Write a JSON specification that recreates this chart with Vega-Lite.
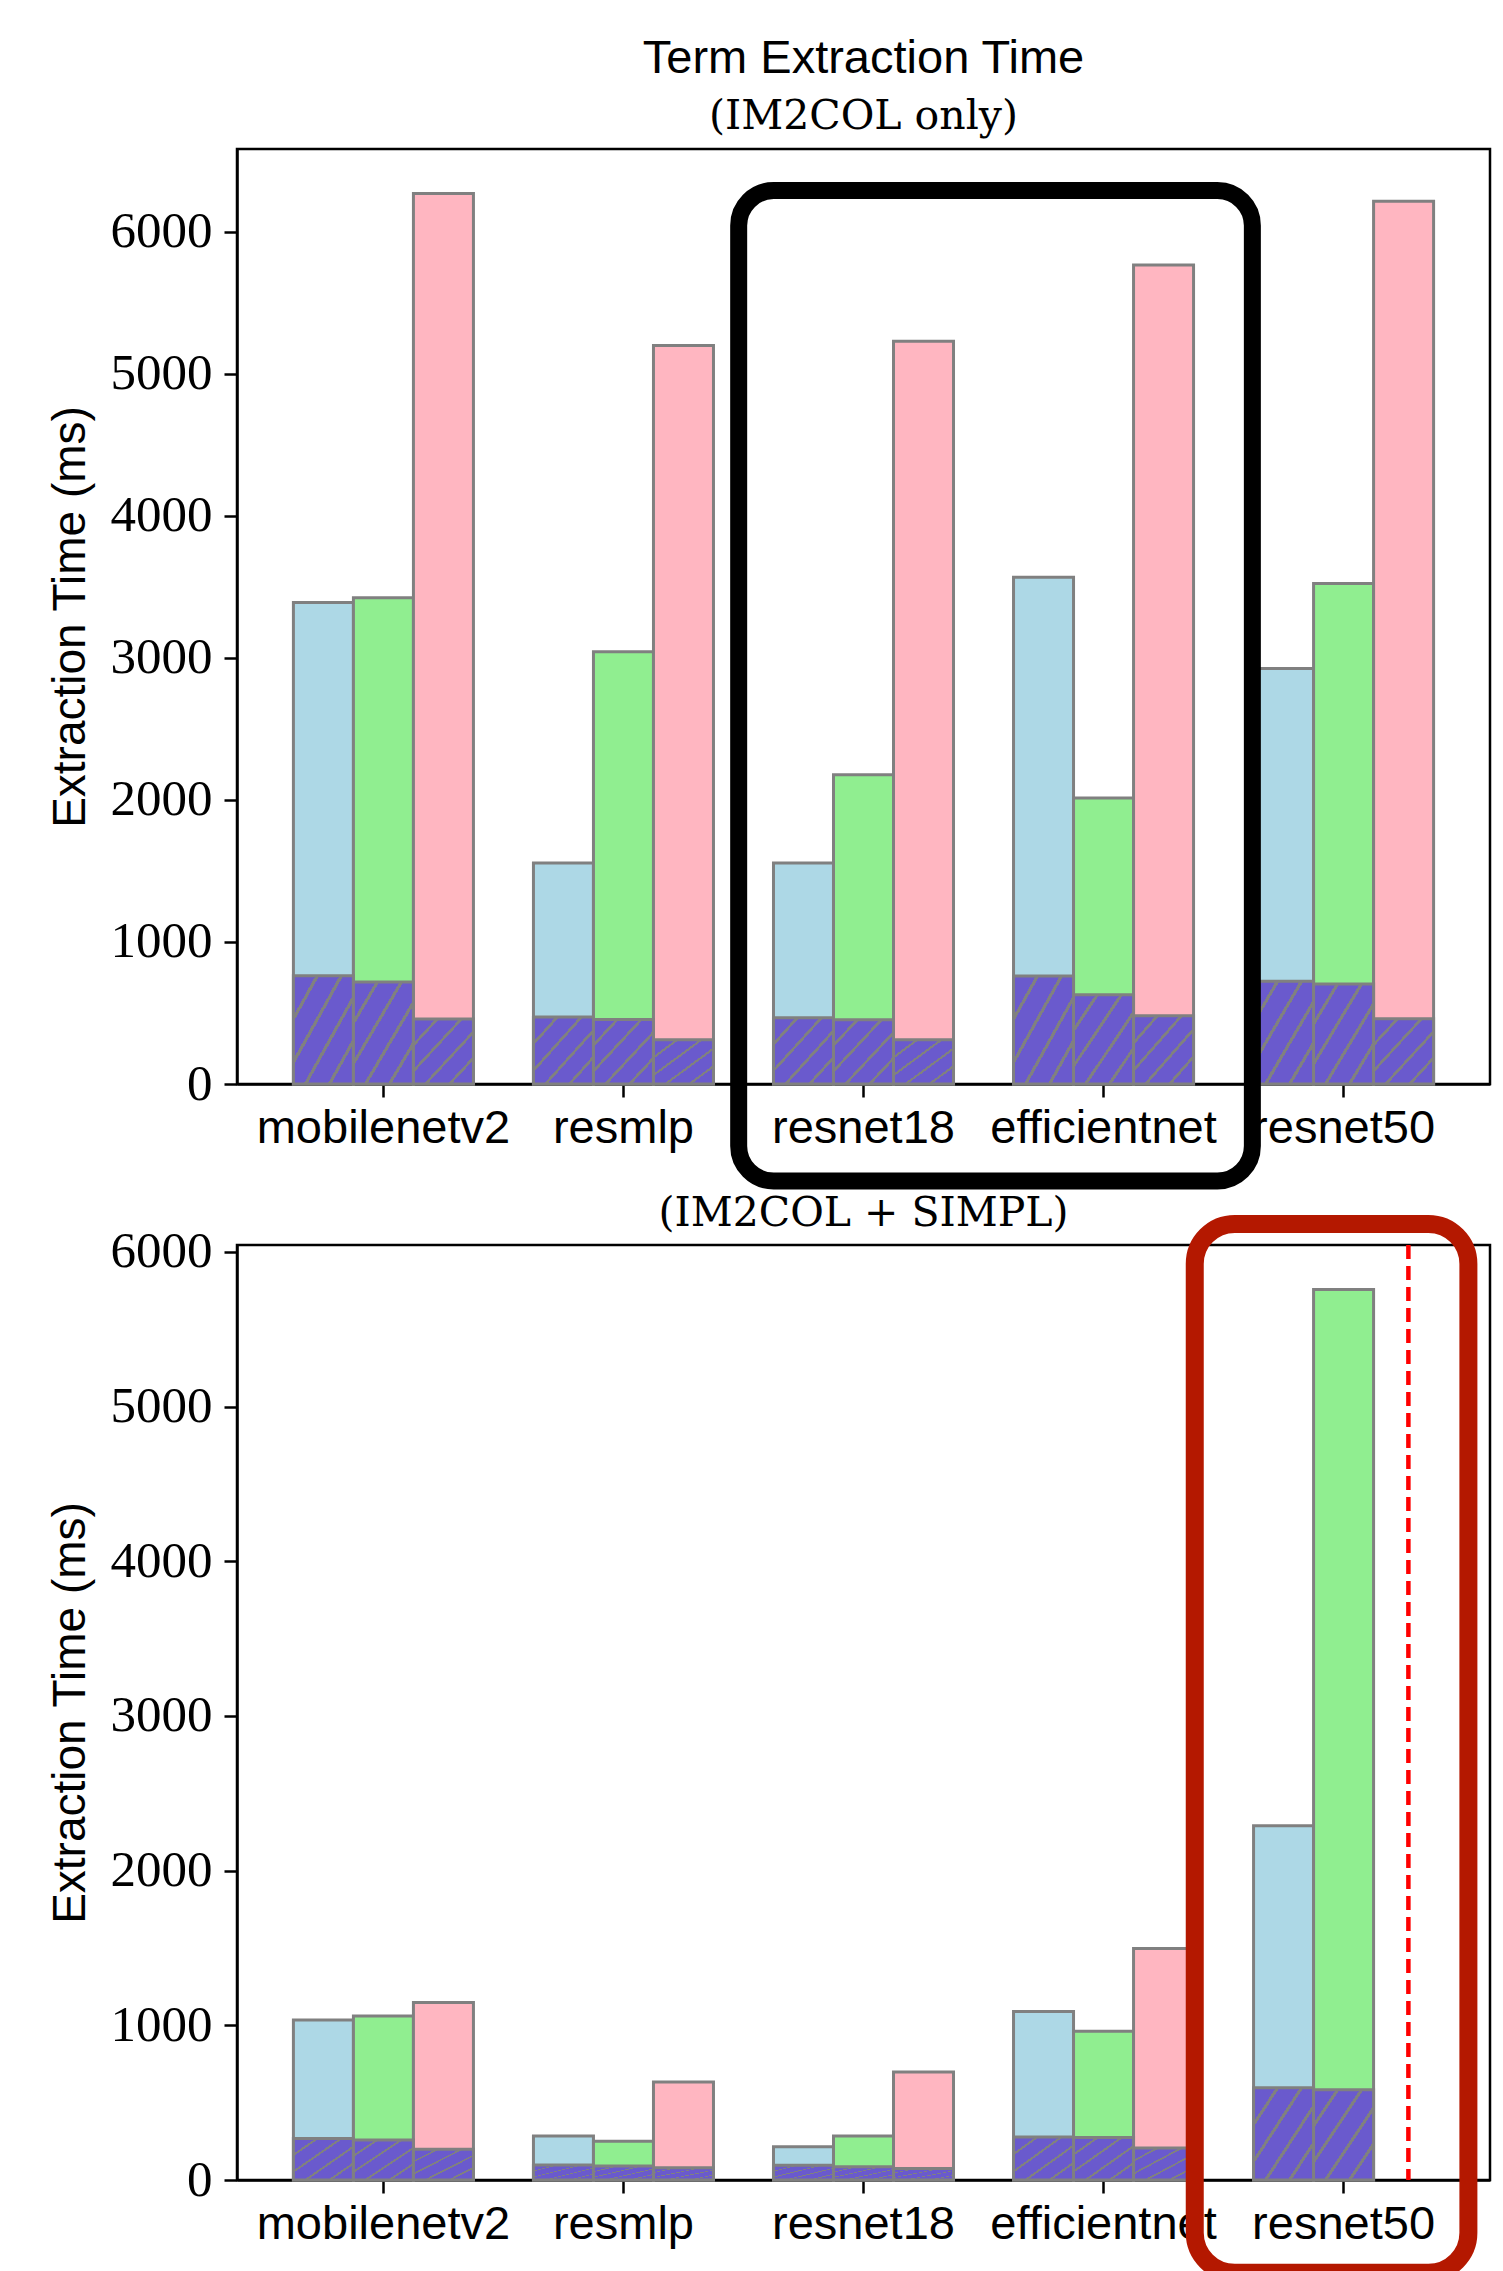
{
  "$schema": "https://vega.github.io/schema/vega-lite/v6.json",
  "background": "white",
  "padding": {"left": 45, "top": 33, "right": 14, "bottom": 3},
  "spacing": 0,
  "config": {
    "font": "Liberation Sans",
    "view": {"stroke": "black", "strokeWidth": 2.5},
    "axisX": {"labelFont": "Liberation Sans", "labelFontSize": 47, "labelAngle": 0, "labelColor": "black", "labelLimit": 500, "labelPadding": 8, "labelBaseline": "top", "tickSize": 13, "tickWidth": 2.5, "tickColor": "black", "domainColor": "black", "domainWidth": 2.5, "grid": false, "title": null},
    "axisY": {"labelFont": "Liberation Serif", "labelFontSize": 51, "labelColor": "black", "labelPadding": 12, "tickSize": 13, "tickWidth": 2.5, "tickColor": "black", "domainColor": "black", "domainWidth": 2.5, "grid": false, "titleFont": "Liberation Sans", "titleFontSize": 46, "titleFontWeight": "normal", "titleColor": "black", "titlePadding": 16}
  },
  "datasets": {
    "im2col": [
      {"model": "mobilenetv2", "variant": "A", "total": 3390, "base": 763},
      {"model": "mobilenetv2", "variant": "B", "total": 3424, "base": 718},
      {"model": "mobilenetv2", "variant": "C", "total": 6270, "base": 458},
      {"model": "resmlp", "variant": "A", "total": 1556, "base": 472},
      {"model": "resmlp", "variant": "B", "total": 3044, "base": 455},
      {"model": "resmlp", "variant": "C", "total": 5200, "base": 312},
      {"model": "resnet18", "variant": "A", "total": 1556, "base": 467},
      {"model": "resnet18", "variant": "B", "total": 2177, "base": 453},
      {"model": "resnet18", "variant": "C", "total": 5230, "base": 312},
      {"model": "efficientnet", "variant": "A", "total": 3568, "base": 761},
      {"model": "efficientnet", "variant": "B", "total": 2014, "base": 629},
      {"model": "efficientnet", "variant": "C", "total": 5766, "base": 481},
      {"model": "resnet50", "variant": "A", "total": 2925, "base": 723},
      {"model": "resnet50", "variant": "B", "total": 3523, "base": 704},
      {"model": "resnet50", "variant": "C", "total": 6215, "base": 460}
    ],
    "simpl": [
      {"model": "mobilenetv2", "variant": "A", "total": 1034, "base": 269},
      {"model": "mobilenetv2", "variant": "B", "total": 1060, "base": 259},
      {"model": "mobilenetv2", "variant": "C", "total": 1147, "base": 198},
      {"model": "resmlp", "variant": "A", "total": 284, "base": 97},
      {"model": "resmlp", "variant": "B", "total": 250, "base": 90},
      {"model": "resmlp", "variant": "C", "total": 634, "base": 80},
      {"model": "resnet18", "variant": "A", "total": 215, "base": 95},
      {"model": "resnet18", "variant": "B", "total": 284, "base": 86},
      {"model": "resnet18", "variant": "C", "total": 698, "base": 75},
      {"model": "efficientnet", "variant": "A", "total": 1090, "base": 278},
      {"model": "efficientnet", "variant": "B", "total": 962, "base": 274},
      {"model": "efficientnet", "variant": "C", "total": 1497, "base": 207},
      {"model": "resnet50", "variant": "A", "total": 2291, "base": 596},
      {"model": "resnet50", "variant": "B", "total": 5757, "base": 583}
    ],
    "note": [{"annotation": "highlight"}]
  },
  "vconcat": [
    {
      "width": 1253,
      "height": 935,
      "title": {"text": "Term Extraction Time", "subtitle": "(IM2COL only)", "font": "Liberation Sans", "fontSize": 47, "fontWeight": "normal", "color": "black", "subtitleFont": "DejaVu Serif", "subtitleFontSize": 41, "subtitleColor": "black", "anchor": "middle", "offset": 11, "subtitlePadding": 14},
      "layer": [
        {
          "data": {"name": "im2col"},
          "mark": {"type": "bar", "stroke": "#808080", "strokeWidth": 3},
          "encoding": {
            "x": {"field": "model", "type": "nominal", "sort": ["mobilenetv2", "resmlp", "resnet18", "efficientnet", "resnet50"], "scale": {"paddingInner": 0, "paddingOuter": 0.11}, "title": null},
            "xOffset": {"field": "variant", "type": "nominal", "sort": ["A", "B", "C"], "scale": {"domain": ["A", "B", "C"], "paddingInner": 0, "paddingOuter": 0.5}},
            "y": {"field": "total", "type": "quantitative", "stack": null, "scale": {"domain": [0, 6583], "nice": false}, "title": "Extraction Time (ms)", "axis": {"values": [0, 1000, 2000, 3000, 4000, 5000, 6000], "format": "d"}},
            "fill": {"field": "variant", "type": "nominal", "scale": {"domain": ["A", "B", "C"], "range": ["#ADD8E6", "#90EE90", "#FFB6C1"]}, "legend": null}
          }
        },
        {
          "data": {"name": "im2col"},
          "mark": {"type": "bar", "stroke": "#808080", "strokeWidth": 3, "color": {"gradient": "linear", "x1": 0, "y1": 0, "x2": 1, "y2": 1, "stops": [
            {"offset": 0, "color": "#6A5ACD"}, {"offset": 0.185, "color": "#6A5ACD"}, {"offset": 0.185, "color": "#808080"}, {"offset": 0.215, "color": "#808080"}, {"offset": 0.215, "color": "#6A5ACD"},
            {"offset": 0.385, "color": "#6A5ACD"}, {"offset": 0.385, "color": "#808080"}, {"offset": 0.415, "color": "#808080"}, {"offset": 0.415, "color": "#6A5ACD"},
            {"offset": 0.585, "color": "#6A5ACD"}, {"offset": 0.585, "color": "#808080"}, {"offset": 0.615, "color": "#808080"}, {"offset": 0.615, "color": "#6A5ACD"},
            {"offset": 0.785, "color": "#6A5ACD"}, {"offset": 0.785, "color": "#808080"}, {"offset": 0.815, "color": "#808080"}, {"offset": 0.815, "color": "#6A5ACD"},
            {"offset": 1, "color": "#6A5ACD"}]}},
          "encoding": {
            "x": {"field": "model", "type": "nominal", "sort": ["mobilenetv2", "resmlp", "resnet18", "efficientnet", "resnet50"], "title": null},
            "xOffset": {"field": "variant", "type": "nominal", "sort": ["A", "B", "C"]},
            "y": {"field": "base", "type": "quantitative", "stack": null, "title": "Extraction Time (ms)", "axis": {"values": [0, 1000, 2000, 3000, 4000, 5000, 6000], "format": "d"}}
          }
        },
        {
          "data": {"name": "note"},
          "mark": {"type": "rect", "filled": false, "color": "black", "strokeWidth": 17, "cornerRadius": 35},
          "encoding": {
            "x": {"datum": "resnet18", "type": "nominal", "bandPosition": -0.02},
            "x2": {"datum": "efficientnet", "bandPosition": 1.12},
            "y": {"datum": 6290, "type": "quantitative"},
            "y2": {"datum": -683}
          }
        }
      ]
    },
    {
      "width": 1253,
      "height": 935,
      "title": {"text": "(IM2COL + SIMPL)", "font": "DejaVu Serif", "fontSize": 41, "fontWeight": "normal", "color": "black", "anchor": "middle", "offset": -20},
      "layer": [
        {
          "data": {"name": "simpl"},
          "mark": {"type": "bar", "stroke": "#808080", "strokeWidth": 3},
          "encoding": {
            "x": {"field": "model", "type": "nominal", "sort": ["mobilenetv2", "resmlp", "resnet18", "efficientnet", "resnet50"], "scale": {"paddingInner": 0, "paddingOuter": 0.11}, "title": null},
            "xOffset": {"field": "variant", "type": "nominal", "sort": ["A", "B", "C"], "scale": {"domain": ["A", "B", "C"], "paddingInner": 0, "paddingOuter": 0.5}},
            "y": {"field": "total", "type": "quantitative", "stack": null, "scale": {"domain": [0, 6045], "nice": false}, "title": "Extraction Time (ms)", "axis": {"values": [0, 1000, 2000, 3000, 4000, 5000, 6000], "format": "d"}},
            "fill": {"field": "variant", "type": "nominal", "scale": {"domain": ["A", "B", "C"], "range": ["#ADD8E6", "#90EE90", "#FFB6C1"]}, "legend": null}
          }
        },
        {
          "data": {"name": "simpl"},
          "mark": {"type": "bar", "stroke": "#808080", "strokeWidth": 3, "color": {"gradient": "linear", "x1": 0, "y1": 0, "x2": 1, "y2": 1, "stops": [
            {"offset": 0, "color": "#6A5ACD"}, {"offset": 0.185, "color": "#6A5ACD"}, {"offset": 0.185, "color": "#808080"}, {"offset": 0.215, "color": "#808080"}, {"offset": 0.215, "color": "#6A5ACD"},
            {"offset": 0.385, "color": "#6A5ACD"}, {"offset": 0.385, "color": "#808080"}, {"offset": 0.415, "color": "#808080"}, {"offset": 0.415, "color": "#6A5ACD"},
            {"offset": 0.585, "color": "#6A5ACD"}, {"offset": 0.585, "color": "#808080"}, {"offset": 0.615, "color": "#808080"}, {"offset": 0.615, "color": "#6A5ACD"},
            {"offset": 0.785, "color": "#6A5ACD"}, {"offset": 0.785, "color": "#808080"}, {"offset": 0.815, "color": "#808080"}, {"offset": 0.815, "color": "#6A5ACD"},
            {"offset": 1, "color": "#6A5ACD"}]}},
          "encoding": {
            "x": {"field": "model", "type": "nominal", "sort": ["mobilenetv2", "resmlp", "resnet18", "efficientnet", "resnet50"], "title": null},
            "xOffset": {"field": "variant", "type": "nominal", "sort": ["A", "B", "C"]},
            "y": {"field": "base", "type": "quantitative", "stack": null, "title": "Extraction Time (ms)", "axis": {"values": [0, 1000, 2000, 3000, 4000, 5000, 6000], "format": "d"}}
          }
        },
        {
          "data": {"name": "note"},
          "mark": {"type": "rule", "color": "#FF0000", "strokeWidth": 4.5, "strokeDash": [14, 7]},
          "encoding": {
            "x": {"datum": "resnet50", "type": "nominal", "bandPosition": 0.77}
          }
        },
        {
          "data": {"name": "note"},
          "mark": {"type": "rect", "filled": false, "color": "#B41800", "strokeWidth": 18, "cornerRadius": 40},
          "encoding": {
            "x": {"datum": "resnet50", "type": "nominal", "bandPosition": -0.12},
            "x2": {"datum": "resnet50", "bandPosition": 1.02},
            "y": {"datum": 6181, "type": "quantitative"},
            "y2": {"datum": -600}
          }
        }
      ]
    }
  ]
}
